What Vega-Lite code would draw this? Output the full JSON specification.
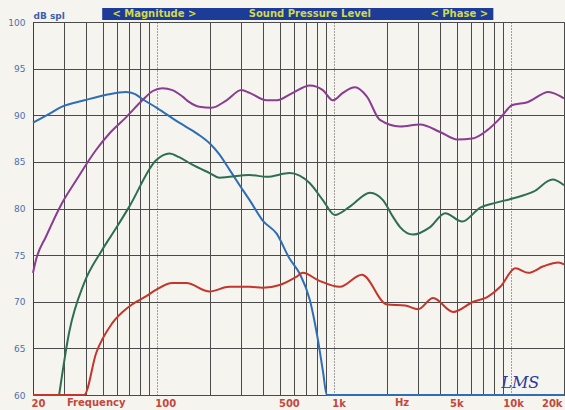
{
  "$schema": "https://vega.github.io/schema/vega-lite/v6.json",
  "width": 531,
  "height": 373,
  "autosize": {"type": "none"},
  "padding": {"left": 33, "top": 22, "right": 1, "bottom": 15},
  "background": "#f5f4ef",
  "config": {"view": {"stroke": "#3c3c3c", "strokeWidth": 1}, "font": "DejaVu Sans"},
  "datasets": {
    "curves": [
      {"s": "blue", "f": 20, "v": 89.2}, {"s": "blue", "f": 25, "v": 90.2}, {"s": "blue", "f": 29, "v": 90.9}, {"s": "blue", "f": 39, "v": 91.6}, {"s": "blue", "f": 52, "v": 92.2}, {"s": "blue", "f": 67, "v": 92.5}, {"s": "blue", "f": 75, "v": 92.3}, {"s": "blue", "f": 82, "v": 91.8}, {"s": "blue", "f": 100, "v": 90.8}, {"s": "blue", "f": 134, "v": 89.2}, {"s": "blue", "f": 170, "v": 88.0}, {"s": "blue", "f": 199, "v": 87.0}, {"s": "blue", "f": 226, "v": 85.8}, {"s": "blue", "f": 257, "v": 84.2}, {"s": "blue", "f": 294, "v": 82.5}, {"s": "blue", "f": 335, "v": 80.9}, {"s": "blue", "f": 397, "v": 78.7}, {"s": "blue", "f": 476, "v": 77.3}, {"s": "blue", "f": 564, "v": 74.6}, {"s": "blue", "f": 643, "v": 73.0}, {"s": "blue", "f": 733, "v": 70.2}, {"s": "blue", "f": 813, "v": 66.0}, {"s": "blue", "f": 870, "v": 62.5}, {"s": "blue", "f": 914, "v": 60.0}, {"s": "blue", "f": 20000, "v": 60.0},
      {"s": "purple", "f": 20, "v": 73.1}, {"s": "purple", "f": 20.8, "v": 74.5}, {"s": "purple", "f": 23.7, "v": 77.0}, {"s": "purple", "f": 29.2, "v": 80.6}, {"s": "purple", "f": 35, "v": 83.0}, {"s": "purple", "f": 45.5, "v": 86.3}, {"s": "purple", "f": 55, "v": 88.2}, {"s": "purple", "f": 67.3, "v": 89.8}, {"s": "purple", "f": 82.9, "v": 91.6}, {"s": "purple", "f": 95, "v": 92.6}, {"s": "purple", "f": 107.6, "v": 92.9}, {"s": "purple", "f": 122.6, "v": 92.7}, {"s": "purple", "f": 140, "v": 92.0}, {"s": "purple", "f": 153, "v": 91.4}, {"s": "purple", "f": 174, "v": 90.9}, {"s": "purple", "f": 204, "v": 90.8}, {"s": "purple", "f": 248, "v": 91.6}, {"s": "purple", "f": 301, "v": 92.7}, {"s": "purple", "f": 335, "v": 92.4}, {"s": "purple", "f": 418, "v": 91.6}, {"s": "purple", "f": 476, "v": 91.6}, {"s": "purple", "f": 587, "v": 92.4}, {"s": "purple", "f": 733, "v": 93.2}, {"s": "purple", "f": 868, "v": 92.7}, {"s": "purple", "f": 989, "v": 91.6}, {"s": "purple", "f": 1126, "v": 92.4}, {"s": "purple", "f": 1317, "v": 93.0}, {"s": "purple", "f": 1541, "v": 92.0}, {"s": "purple", "f": 1824, "v": 89.5}, {"s": "purple", "f": 2370, "v": 88.8}, {"s": "purple", "f": 3076, "v": 89.0}, {"s": "purple", "f": 3993, "v": 88.2}, {"s": "purple", "f": 4985, "v": 87.4}, {"s": "purple", "f": 6063, "v": 87.5}, {"s": "purple", "f": 7373, "v": 88.4}, {"s": "purple", "f": 8730, "v": 89.7}, {"s": "purple", "f": 10210, "v": 91.1}, {"s": "purple", "f": 12420, "v": 91.4}, {"s": "purple", "f": 16330, "v": 92.5}, {"s": "purple", "f": 20000, "v": 91.8},
      {"s": "green", "f": 28.1, "v": 60.0}, {"s": "green", "f": 32, "v": 66.7}, {"s": "green", "f": 38.9, "v": 72.0}, {"s": "green", "f": 48.6, "v": 75.4}, {"s": "green", "f": 59, "v": 77.9}, {"s": "green", "f": 70, "v": 80.2}, {"s": "green", "f": 99.5, "v": 85.2}, {"s": "green", "f": 118, "v": 85.9}, {"s": "green", "f": 134, "v": 85.5}, {"s": "green", "f": 159, "v": 84.7}, {"s": "green", "f": 199, "v": 83.8}, {"s": "green", "f": 226, "v": 83.3}, {"s": "green", "f": 335, "v": 83.6}, {"s": "green", "f": 418, "v": 83.4}, {"s": "green", "f": 564, "v": 83.8}, {"s": "green", "f": 733, "v": 82.7}, {"s": "green", "f": 868, "v": 80.9}, {"s": "green", "f": 1015, "v": 79.3}, {"s": "green", "f": 1233, "v": 80.2}, {"s": "green", "f": 1603, "v": 81.7}, {"s": "green", "f": 1898, "v": 80.9}, {"s": "green", "f": 2163, "v": 79.1}, {"s": "green", "f": 2370, "v": 78.0}, {"s": "green", "f": 2806, "v": 77.2}, {"s": "green", "f": 3504, "v": 78.0}, {"s": "green", "f": 4262, "v": 79.5}, {"s": "green", "f": 5322, "v": 78.6}, {"s": "green", "f": 6729, "v": 80.1}, {"s": "green", "f": 8183, "v": 80.6}, {"s": "green", "f": 10350, "v": 81.1}, {"s": "green", "f": 13430, "v": 81.8}, {"s": "green", "f": 17230, "v": 83.1}, {"s": "green", "f": 20000, "v": 82.5},
      {"s": "red", "f": 20, "v": 60.0}, {"s": "red", "f": 38.9, "v": 60.0}, {"s": "red", "f": 45.5, "v": 64.5}, {"s": "red", "f": 56.1, "v": 67.7}, {"s": "red", "f": 70, "v": 69.5}, {"s": "red", "f": 87.3, "v": 70.6}, {"s": "red", "f": 99.5, "v": 71.3}, {"s": "red", "f": 122.6, "v": 72.0}, {"s": "red", "f": 147, "v": 72.0}, {"s": "red", "f": 199, "v": 71.1}, {"s": "red", "f": 257, "v": 71.6}, {"s": "red", "f": 335, "v": 71.6}, {"s": "red", "f": 397, "v": 71.5}, {"s": "red", "f": 495, "v": 71.8}, {"s": "red", "f": 618, "v": 72.7}, {"s": "red", "f": 669, "v": 73.1}, {"s": "red", "f": 820, "v": 72.3}, {"s": "red", "f": 1083, "v": 71.6}, {"s": "red", "f": 1442, "v": 72.9}, {"s": "red", "f": 2000, "v": 69.7}, {"s": "red", "f": 2530, "v": 69.6}, {"s": "red", "f": 2996, "v": 69.2}, {"s": "red", "f": 3644, "v": 70.4}, {"s": "red", "f": 4732, "v": 68.9}, {"s": "red", "f": 6141, "v": 70.0}, {"s": "red", "f": 7373, "v": 70.5}, {"s": "red", "f": 8730, "v": 71.6}, {"s": "red", "f": 10620, "v": 73.6}, {"s": "red", "f": 12590, "v": 73.1}, {"s": "red", "f": 15300, "v": 73.8}, {"s": "red", "f": 18630, "v": 74.2}, {"s": "red", "f": 20000, "v": 74.0}
    ],
    "bar": [{"f": 49.2, "f2": 7977, "v": 100.21, "v2": 101.5}],
    "bartext": [
      {"f": 97, "v": 100.86, "t": "< Magnitude >"},
      {"f": 733, "v": 100.86, "t": "Sound Pressure Level"},
      {"f": 5117, "v": 100.86, "t": "< Phase >"}
    ],
    "xlabels": [
      {"f": 45.5, "v": 59.15, "t": "Frequency"},
      {"f": 2433, "v": 59.15, "t": "Hz"}
    ],
    "sig": [{"f": 11330, "v": 61.3, "t": "LMS"}]
  },
  "encoding": {
    "x": {
      "field": "f", "type": "quantitative",
      "scale": {"type": "log", "domain": [20, 20000], "nice": false},
      "axis": {
        "values": [20, 30, 40, 50, 60, 70, 80, 90, 100, 200, 300, 400, 500, 600, 700, 800, 900, 1000, 2000, 3000, 4000, 5000, 6000, 7000, 8000, 9000, 10000, 20000],
        "title": null, "grid": true, "gridColor": "#4a4a4a", "gridWidth": 1, "gridOpacity": 1,
        "gridDash": {"condition": {"test": "datum.value == 100 || datum.value == 1000 || datum.value == 10000", "value": [1, 2]}, "value": []},
        "ticks": false, "domain": false,
        "labelExpr": "datum.value == 20 ? '20' : datum.value == 100 ? '100' : datum.value == 500 ? '500' : datum.value == 1000 ? '1k' : datum.value == 5000 ? '5k' : datum.value == 10000 ? '10k' : datum.value == 20000 ? '20k' : ''",
        "labelAlign": {"condition": {"test": "datum.value >= 20000", "value": "right"}, "value": "left"},
        "labelOffset": {"condition": {"test": "datum.value == 5000 || datum.value == 10000", "value": -8}, "value": -2},
        "labelFlush": false, "labelOverlap": false, "labelBound": false,
        "labelColor": "#c4473b", "labelFontSize": 10, "labelFontWeight": "bold", "labelPadding": 3
      }
    },
    "y": {
      "field": "v", "type": "quantitative",
      "scale": {"domain": [60, 100], "nice": false, "zero": false},
      "axis": {
        "values": [60, 65, 70, 75, 80, 85, 90, 95, 100],
        "title": "dB spl", "titleAngle": 0, "titleX": 0, "titleY": -7, "titleAlign": "left", "titleBaseline": "middle",
        "titleColor": "#3f5fae", "titleFontSize": 9, "titleFontWeight": "bold",
        "grid": true, "gridColor": "#4a4a4a", "gridWidth": 1, "gridOpacity": 1,
        "ticks": false,
        "domain": true, "domainColor": "#3c3c3c",
        "labelColor": "#4f6fae", "labelFontSize": 9, "labelPadding": 8, "labelOverlap": false, "labelFlush": false
      }
    }
  },
  "layer": [
    {
      "data": {"name": "curves"},
      "mark": {"type": "line", "strokeWidth": 2, "interpolate": "monotone"},
      "encoding": {
        "color": {
          "field": "s", "type": "nominal", "legend": null,
          "scale": {"domain": ["blue", "purple", "green", "red"], "range": ["#2f6db5", "#8a3c92", "#2e6e54", "#c4352b"]}
        }
      }
    },
    {
      "data": {"name": "bar"},
      "mark": {"type": "rect", "color": "#1c3c98"},
      "encoding": {
        "x2": {"field": "f2"},
        "y2": {"field": "v2"}
      }
    },
    {
      "data": {"name": "bartext"},
      "mark": {"type": "text", "color": "#d2d84c", "fontSize": 10, "fontWeight": "bold", "baseline": "middle", "align": "center"},
      "encoding": {"text": {"field": "t"}}
    },
    {
      "data": {"name": "xlabels"},
      "mark": {"type": "text", "color": "#c4473b", "fontSize": 10, "fontWeight": "bold", "baseline": "middle", "align": "center"},
      "encoding": {"text": {"field": "t"}}
    },
    {
      "data": {"name": "sig"},
      "mark": {"type": "text", "color": "#2b3b9a", "fontSize": 16, "fontStyle": "italic", "font": "DejaVu Serif", "baseline": "middle", "align": "center"},
      "encoding": {"text": {"field": "t"}}
    }
  ]
}
